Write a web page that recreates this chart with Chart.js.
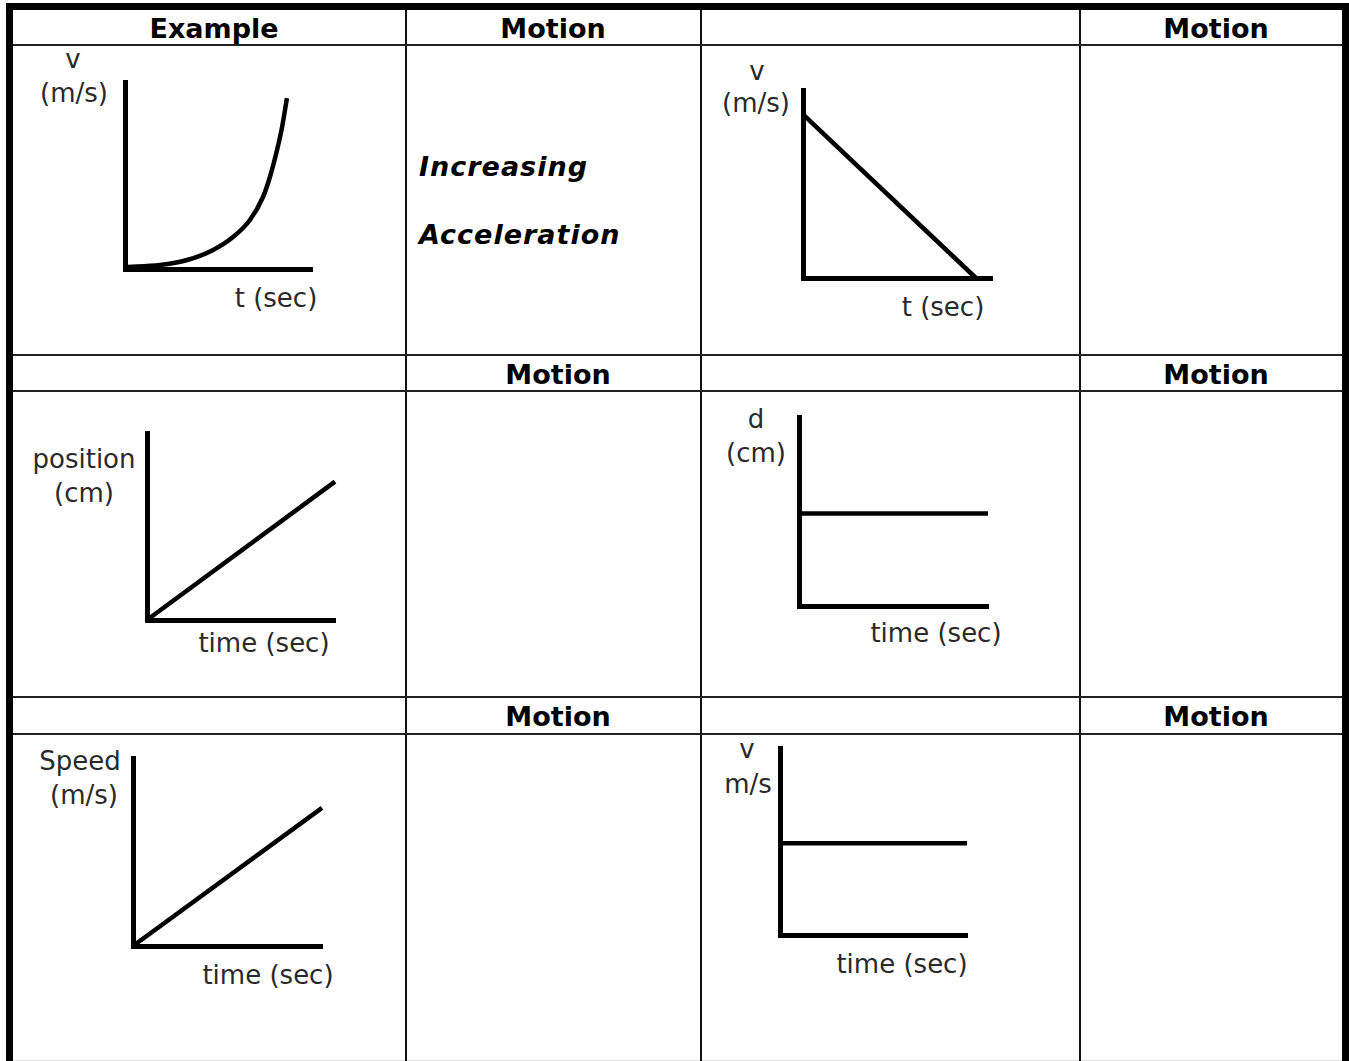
<!DOCTYPE html>
<html>
<head>
<meta charset="utf-8">
<script src="https://cdn.jsdelivr.net/npm/chart.js@4.4.1/dist/chart.umd.min.js"></script>
<style>
  html, body { margin: 0; padding: 0; background: #fff; }
  body { width: 1349px; height: 1061px; position: relative; overflow: hidden; font-family: 'DejaVu Sans', Verdana, sans-serif; }
  .ln { position: absolute; background: #111; }
  .txt { position: absolute; white-space: nowrap; line-height: 1; }
  .hd { font-size: 27px; font-weight: bold; color: #000; }
  .desc { font-size: 27px; font-weight: bold; font-style: italic; color: #000; letter-spacing: 1px; }
  .lab { font-size: 26px; color: #2a2a2a; }
  canvas { position: absolute; }
</style>
</head>
<body>
<script>
// ---- Datos de las gráficas ----
// 1. Ejemplo: v-t, aceleración creciente
const exT = [0, 1.87, 3.32, 4.71, 5.78, 6.68, 7.38, 7.75, 8.13, 8.4, 8.66];
const exV = [0.1, 0.21, 0.48, 1.02, 1.71, 2.62, 3.85, 4.92, 6.36, 7.59, 9.14];
// 2. v-t, velocidad decreciente
const decT = [0, 9.15];
const decV = [8.7, 0];
// 3. posición-tiempo, recta
const posT = [0, 10];
const posD = [0, 7.4];
// 4. d-t, constante
const dT = [0, 10];
const dD = [4.9, 4.9];
// 5. rapidez-tiempo, recta
const spT = [0, 10];
const spV = [0, 7.35];
// 6. v-t, constante
const vT = [0, 10];
const vV = [4.9, 4.9];

// ---- Tabla ----
const body = document.body;
function line(x, y, w, h, color) {
    const d = document.createElement('div');
    d.className = 'ln';
    d.style.left = x + 'px'; d.style.top = y + 'px';
    d.style.width = w + 'px'; d.style.height = h + 'px';
    if (color) d.style.background = color;
    body.appendChild(d);
}
// borde exterior
line(6, 3, 1343, 7, '#000');
line(6, 3, 7, 1058, '#000');
line(1342, 3, 7, 1058, '#000');
line(13, 1060, 1329, 1, '#ddd');
// columnas
[405, 700, 1079].forEach(x => line(x, 10, 2, 1051));
// filas
[44, 354, 390, 696, 733].forEach(y => line(13, y, 1329, 2, '#222'));

// texto: cx = centro (o izquierda si align='left'), base = línea base
function text(str, cx, base, cls, size, align) {
    const d = document.createElement('div');
    d.className = 'txt ' + cls;
    d.textContent = str;
    d.style.top = (base - 0.846 * size) + 'px';
    d.style.left = cx + 'px';
    if (align !== 'left') d.style.transform = 'translateX(-50%)';
    body.appendChild(d);
}

// encabezados
text('Example', 214, 37.5, 'hd', 27);
text('Motion', 553, 37.5, 'hd', 27);
text('Motion', 1216, 37.5, 'hd', 27);
text('Motion', 558, 383.5, 'hd', 27);
text('Motion', 1216, 383.5, 'hd', 27);
text('Motion', 558, 726, 'hd', 27);
text('Motion', 1216, 726, 'hd', 27);
text('Increasing', 419, 176, 'desc', 27, 'left');
text('Acceleration', 419, 244, 'desc', 27, 'left');

// etiquetas de ejes
const labels = [
    ['v', 73, 68], ['(m/s)', 74, 101.5], ['t (sec)', 276, 306.5],
    ['v', 757, 80], ['(m/s)', 756, 111.5], ['t (sec)', 943, 316],
    ['position', 84, 468], ['(cm)', 84, 501.5], ['time (sec)', 264, 651.5],
    ['d', 756, 428], ['(cm)', 756, 461.5], ['time (sec)', 936, 641.5],
    ['Speed', 80, 770], ['(m/s)', 84, 803.5], ['time (sec)', 268, 983.5],
    ['v', 747, 758], ['m/s', 748, 793], ['time (sec)', 902, 973],
];
labels.forEach(l => text(l[0], l[1], l[2], 'lab', 26));

// ---- Gráficas ----
const PAD = 8;
const axisOpts = {
    type: 'linear',
    min: 0,
    max: 10,
    ticks: { display: false },
    grid: { display: false, drawTicks: false },
    border: { display: true, color: '#000', width: 5 }
};

function graph(box, xs, ys, smooth) {
    const c = document.createElement('canvas');
    const w = box.right - box.left + 2 * PAD;
    const h = box.bottom - box.top + 2 * PAD;
    c.width = w; c.height = h;
    c.style.left = (box.left - PAD) + 'px';
    c.style.top = (box.top - PAD) + 'px';
    body.appendChild(c);
    new Chart(c, {
        type: 'line',
        data: {
            datasets: [{
                data: xs.map((x, i) => ({ x: x, y: ys[i] })),
                borderColor: '#000',
                borderWidth: 4.5,
                pointRadius: 0,
                fill: false,
                clip: false,
                tension: smooth ? 0.4 : 0,
                cubicInterpolationMode: smooth ? 'monotone' : 'default'
            }]
        },
        options: {
            responsive: false,
            animation: false,
            events: [],
            layout: { padding: PAD },
            plugins: { legend: { display: false }, tooltip: { enabled: false } },
            scales: { x: { ...axisOpts }, y: { ...axisOpts } }
        }
    });
}

graph({ left: 125, top: 82, right: 312, bottom: 269 }, exT, exV, true);
graph({ left: 803, top: 90, right: 992, bottom: 278 }, decT, decV, false);
graph({ left: 147, top: 433, right: 335, bottom: 620 }, posT, posD, false);
graph({ left: 799, top: 417, right: 988, bottom: 606 }, dT, dD, false);
graph({ left: 133, top: 758, right: 322, bottom: 946 }, spT, spV, false);
graph({ left: 780, top: 748, right: 967, bottom: 935 }, vT, vV, false);
</script>
</body>
</html>
